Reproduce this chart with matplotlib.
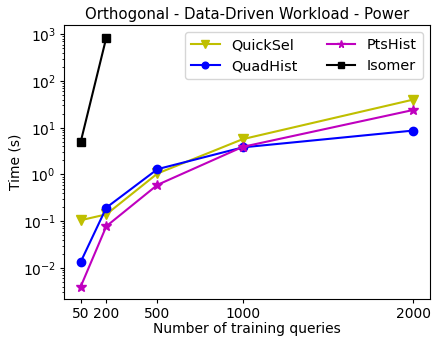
import matplotlib
matplotlib.use("Agg")
import matplotlib.pyplot as plt

x = [50, 200, 500, 1000, 2000]
quicksel = [0.105, 0.14, 1.05, 5.7, 40]
quadhist = [0.0135, 0.195, 1.3, 3.8, 8.7]
ptshist = [0.004, 0.078, 0.6, 3.9, 24]
isomer_x = [50, 200]
isomer = [5.0, 850]

fig, ax = plt.subplots(figsize=(4.39, 3.39), dpi=100)
ax.plot(x, quicksel, color='y', marker='v', markersize=7, label='QuickSel')
ax.plot(x, quadhist, color='b', marker='o', markersize=6, label='QuadHist')
ax.plot(x, ptshist, color='m', marker='*', markersize=7, label='PtsHist')
ax.plot(isomer_x, isomer, color='k', marker='s', markersize=6, label='Isomer')
ax.set_yscale('log')
ax.set_xticks(x)
ax.tick_params(which='major', labelsize=10, length=3, pad=3)
ax.tick_params(which='minor', length=1.8)
ax.set_xlabel('Number of training queries', fontsize=10, labelpad=0.5)
ax.set_ylabel('Time (s)', fontsize=10, labelpad=0)
ax.set_title('Orthogonal - Data-Driven Workload - Power', fontsize=10.7, pad=4.5)
ax.legend(ncol=2, fontsize=10.4, loc='upper right', markerscale=0.8)
fig.subplots_adjust(left=0.146, right=0.9795, top=0.926, bottom=0.118)
fig.savefig('out.png', dpi=100)
